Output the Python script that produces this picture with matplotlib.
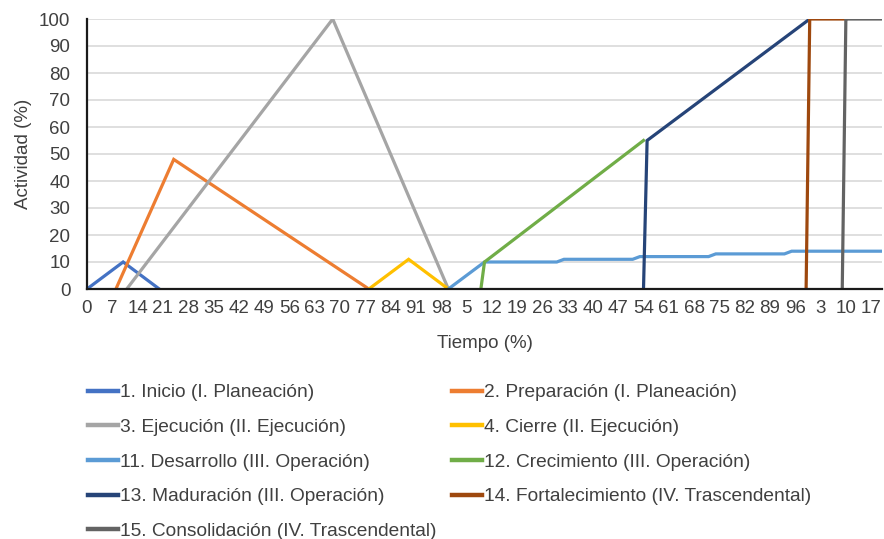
import matplotlib
matplotlib.use("Agg")
import matplotlib.pyplot as plt
import numpy as np

# category axis: 221 time points (three cycles of 0-99 %), ticks every 7
n_points = 221
tick_labels = [0, 7, 14, 21, 28, 35, 42, 49, 56, 63, 70, 77, 84, 91, 98,
               5, 12, 19, 26, 33, 40, 47, 54, 61, 68, 75, 82, 89, 96,
               3, 10, 17]

# each series: category index of its points and activity (%)
inicio_x = [0, 10, 20]
inicio_y = [0, 10, 0]
preparacion_x = [8, 24, 78]
preparacion_y = [0, 48, 0]
ejecucion_x = [11, 68, 100]
ejecucion_y = [0, 100, 0]
cierre_x = [78, 89, 100]
cierre_y = [0, 11, 0]
desarrollo_x = [100, 110, 130, 132, 151, 153, 172, 174, 193, 195, 220]
desarrollo_y = [0, 10, 10, 11, 11, 12, 12, 13, 13, 14, 14]
crecimiento_x = [109, 110, 154]
crecimiento_y = [0, 10, 55]
maduracion_x = [154, 155, 200]
maduracion_y = [0, 55, 100]
fortalecimiento_x = [199, 200, 210]
fortalecimiento_y = [0, 100, 100]
consolidacion_x = [209, 210, 220]
consolidacion_y = [0, 100, 100]

series = [
    ("1. Inicio (I. Planeación)", inicio_x, inicio_y, "#4472C4"),
    ("2. Preparación (I. Planeación)", preparacion_x, preparacion_y, "#ED7D31"),
    ("3. Ejecución (II. Ejecución)", ejecucion_x, ejecucion_y, "#A5A5A5"),
    ("4. Cierre (II. Ejecución)", cierre_x, cierre_y, "#FFC000"),
    ("11. Desarrollo (III. Operación)", desarrollo_x, desarrollo_y, "#5B9BD5"),
    ("12. Crecimiento (III. Operación)", crecimiento_x, crecimiento_y, "#70AD47"),
    ("13. Maduración (III. Operación)", maduracion_x, maduracion_y, "#264478"),
    ("14. Fortalecimiento (IV. Trascendental)", fortalecimiento_x, fortalecimiento_y, "#9E480E"),
    ("15. Consolidación (IV. Trascendental)", consolidacion_x, consolidacion_y, "#636363"),
]

plt.rcParams['font.family'] = ['Liberation Sans', 'DejaVu Sans']
plt.rcParams['font.size'] = 13.5
text_color = '#404040'

fig = plt.figure(figsize=(8.84, 5.39), dpi=100)
ax = fig.add_axes([87 / 884, 1 - 289 / 539, (882 - 87) / 884, (289 - 19) / 539])

handles = []
for label, xs, ys, color in series:
    h, = ax.plot(xs, ys, color=color, lw=2.3, label=label, solid_joinstyle='miter')
    handles.append(h)

ax.set_xlim(0, n_points - 1)
ax.set_ylim(0, 100)
ax.set_yticks(np.arange(0, 101, 10))
ax.set_xticks(np.arange(0, n_points, 7))
ax.set_xticklabels([str(t) for t in tick_labels])
ax.tick_params(axis='both', length=0, colors=text_color, labelsize=13.5)
ax.tick_params(axis='y', pad=12)
ax.tick_params(axis='x', pad=8)
ax.grid(axis='y', color='#D9D9D9', lw=1.2)
ax.set_axisbelow(True)
for s in ['top', 'right']:
    ax.spines[s].set_visible(False)
for s in ['left', 'bottom']:
    ax.spines[s].set_color('#1a1a1a')
    ax.spines[s].set_linewidth(1.6)

ax.set_xlabel("Tiempo (%)", color=text_color, labelpad=13)
ax.set_ylabel("Actividad (%)", color=text_color, labelpad=5)

# legend reads row by row: reorder for column-major filling
order = [0, 2, 4, 6, 8, 1, 3, 5, 7]
leg = fig.legend([handles[i] for i in order], [series[i][0] for i in order],
                 ncol=2, loc='upper left', bbox_to_anchor=(88 / 884, 1 - 384 / 539),
                 frameon=False, borderpad=0, borderaxespad=0,
                 handlelength=1.55, handletextpad=0.1, columnspacing=0.85,
                 labelspacing=0.9, fontsize=13.8)
for t in leg.get_texts():
    t.set_color(text_color)
for line in leg.get_lines():
    line.set_linewidth(3.2)

fig.savefig("out.png", dpi=100)
